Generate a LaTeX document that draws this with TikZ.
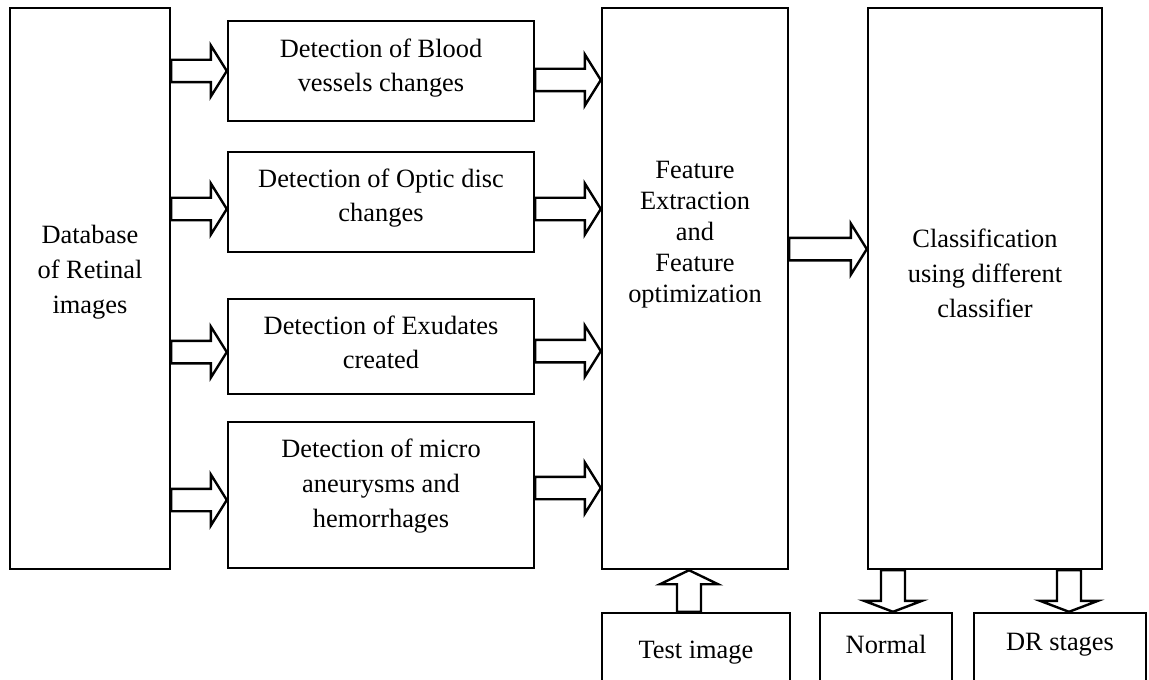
\documentclass[tikz,border=0pt]{standalone}
\usepackage{fontspec}
\setmainfont{Liberation Serif}
\usetikzlibrary{calc}

% block arrow pointing right: x from #1 to #2, at the height of #3
\newcommand\blockRight[3]{%
  \draw[blk] let \p1=#1, \p2=#2, \p3=#3 in
    (\x1,\y3+5.6pt) -- (\x2-8pt,\y3+5.6pt) -- (\x2-8pt,\y3+12.8pt) -- (\x2,\y3)
    -- (\x2-8pt,\y3-12.8pt) -- (\x2-8pt,\y3-5.6pt) -- (\x1,\y3-5.6pt) -- cycle;}
% block arrow pointing down: y from #2 to #3, at the x of #1
\newcommand\blockDown[3]{%
  \draw[blk] let \p1=#1, \p2=#2, \p3=#3 in
    (\x1-6pt,\y2) -- (\x1-6pt,\y3+5.5pt) -- (\x1-14.5pt,\y3+5.5pt) -- (\x1,\y3)
    -- (\x1+14.5pt,\y3+5.5pt) -- (\x1+6pt,\y3+5.5pt) -- (\x1+6pt,\y2) -- cycle;}
% block arrow pointing up: y from #2 to #3, at the x of #1
\newcommand\blockUp[3]{%
  \draw[blk] let \p1=#1, \p2=#2, \p3=#3 in
    (\x1-6pt,\y2) -- (\x1-6pt,\y3-7pt) -- (\x1-14.5pt,\y3-7pt) -- (\x1,\y3)
    -- (\x1+14.5pt,\y3-7pt) -- (\x1+6pt,\y3-7pt) -- (\x1+6pt,\y2) -- cycle;}

\tikzset{
  box/.style={draw, line width=1.2pt, rectangle, inner sep=0pt},
  blk/.style={draw, line width=1.2pt, fill=white, line join=miter},
  txt/.style={inner sep=0pt, align=center, font=\fontsize{13.2}{17}\selectfont},
}

\begin{document}
\begin{tikzpicture}[x=0.5pt, y=-0.5pt]
  \useasboundingbox (0,0) rectangle (1149,679);
  \clip (0,0) rectangle (1149,679);
  \fill[white] (0,0) rectangle (1149,679);

  % boxes
  \node[box, minimum width=80pt,  minimum height=280.5pt] (db)   at (90,288.5)  {};
  \node[box, minimum width=153pt, minimum height=50pt]    (b1)   at (381,71)    {};
  \node[box, minimum width=153pt, minimum height=50pt]    (b2)   at (381,202)   {};
  \node[box, minimum width=153pt, minimum height=47.5pt]  (b3)   at (381,346.5) {};
  \node[box, minimum width=153pt, minimum height=73pt]    (b4)   at (381,495)   {};
  \node[box, minimum width=93pt,  minimum height=280.5pt] (fe)   at (695,288.5) {};
  \node[box, minimum width=117pt, minimum height=280.5pt] (cl)   at (985,288.5) {};
  \node[box, minimum width=94pt,  minimum height=60pt]    (test) at (696,673)   {};
  \node[box, minimum width=66pt,  minimum height=60pt]    (nor)  at (886,673)   {};
  \node[box, minimum width=86pt,  minimum height=60pt]    (dr)   at (1060,673)  {};

  % labels
  \node[txt, font=\fontsize{13.2}{17.5}\selectfont] (dbt) at (90,272) {Database\\of Retinal\\images};
  \node[txt] (b1t) at (381,68)  {Detection of Blood\\vessels changes};
  \node[txt] (b2t) at (381,198) {Detection of Optic disc\\changes};
  \node[txt] (b3t) at (381,342) {Detection of Exudates\\created};
  \node[txt, font=\fontsize{13.2}{17.5}\selectfont] (b4t) at (381,486) {Detection of micro\\aneurysms and\\hemorrhages};
  \node[txt, font=\fontsize{13.2}{15.5}\selectfont] (fet) at (695,235) {Feature\\Extraction\\and\\Feature\\optimization};
  \node[txt, font=\fontsize{13.2}{17.5}\selectfont] (clt) at (985,273) {Classification\\using different\\classifier};
  \node[txt, anchor=base] (testt) at (696,658)  {Test image};
  \node[txt, anchor=base] (nort)  at (886,653)  {Normal};
  \node[txt, anchor=base] (drt)   at (1060,650) {DR stages};

  % database to the detection stages
  \blockRight{(db.east)}{(b1.west)}{(b1.west)}
  \blockRight{(db.east)}{(b2.west)}{([yshift=-3.5pt]b2.west)}
  \blockRight{(db.east)}{(b3.west)}{([yshift=-2.8pt]b3.west)}
  \blockRight{(db.east)}{(b4.west)}{([yshift=-2.5pt]b4.west)}

  % detection stages to feature extraction
  \blockRight{(b1.east)}{(fe.west)}{([yshift=-4.5pt]b1.east)}
  \blockRight{(b2.east)}{(fe.west)}{([yshift=-3.5pt]b2.east)}
  \blockRight{(b3.east)}{(fe.west)}{([yshift=-2.3pt]b3.east)}
  \blockRight{(b4.east)}{(fe.west)}{([yshift=3.5pt]b4.east)}

  % feature extraction to classification
  \blockRight{(fe.east)}{(cl.west)}{([yshift=19.7pt]fe.east)}

  % test image into feature extraction
  \blockUp{([xshift=-3.5pt]test.north)}{(test.north)}{(fe.south)}

  % classification outputs
  \blockDown{([xshift=3.5pt]nor.north)}{(cl.south)}{(nor.north)}
  \blockDown{([xshift=4.5pt]dr.north)}{(cl.south)}{(dr.north)}
\end{tikzpicture}
\end{document}
